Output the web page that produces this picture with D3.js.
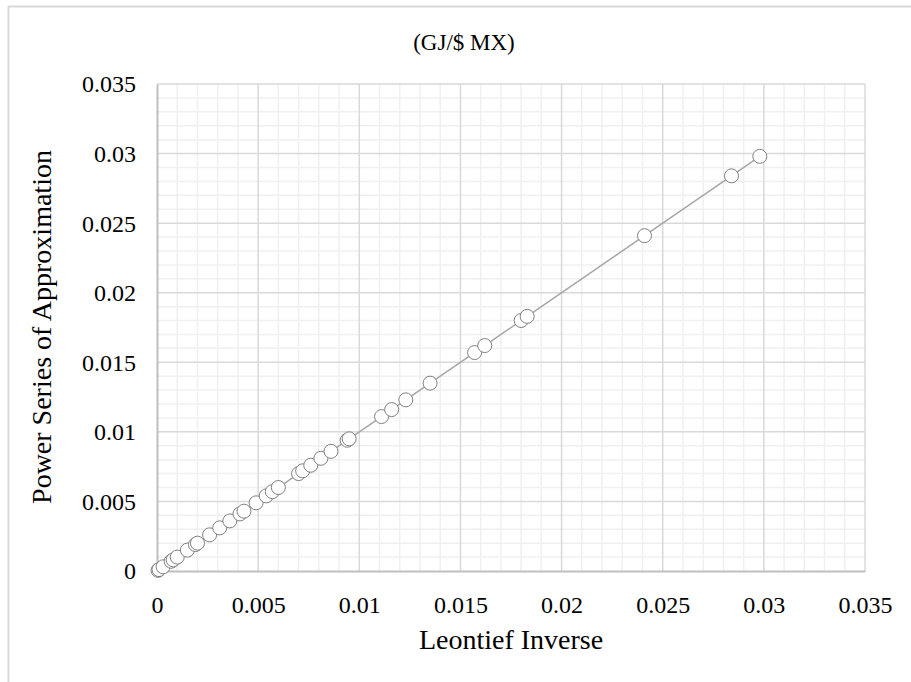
<!DOCTYPE html>
<html>
<head>
<meta charset="utf-8">
<script src="https://cdn.jsdelivr.net/npm/d3@7"></script>
<style>
  html, body { margin: 0; padding: 0; background: #fff; }
  svg { display: block; }
  text { font-family: "Liberation Serif", "Times New Roman", serif; fill: #000; }
</style>
</head>
<body>
<svg id="chart" width="911" height="682"></svg>
<script>
// Energy intensities per sector: Leontief inverse vs. power-series approximation
const leontief = [0.00005, 0.0001, 0.0003, 0.0007, 0.0008, 0.0010, 0.0015, 0.0019, 0.0020,
  0.0026, 0.0031, 0.0036, 0.0041, 0.0043, 0.0049, 0.0054, 0.0057, 0.0060, 0.0070, 0.0072,
  0.0076, 0.0081, 0.0086, 0.0094, 0.0095, 0.0111, 0.0116, 0.0123, 0.0135, 0.0157, 0.0162,
  0.0180, 0.0183, 0.0241, 0.0284, 0.0298];
const powerSeries = [0.00005, 0.0001, 0.0003, 0.0007, 0.0008, 0.0010, 0.0015, 0.0019, 0.0020,
  0.0026, 0.0031, 0.0036, 0.0041, 0.0043, 0.0049, 0.0054, 0.0057, 0.0060, 0.0070, 0.0072,
  0.0076, 0.0081, 0.0086, 0.0094, 0.0095, 0.0111, 0.0116, 0.0123, 0.0135, 0.0157, 0.0162,
  0.0180, 0.0183, 0.0241, 0.0284, 0.0298];
const majorTicks = [0, 0.005, 0.01, 0.015, 0.02, 0.025, 0.03, 0.035];
const tickLabels = ["0", "0.005", "0.01", "0.015", "0.02", "0.025", "0.03", "0.035"];
const minorStep = 0.001;
const chartTitle = "(GJ/$ MX)";
const xTitle = "Leontief Inverse";
const yTitle = "Power Series of Approximation";

const svg = d3.select("#chart");
const plot = { left: 157, right: 865, top: 84, bottom: 571 };

const x = d3.scaleLinear().domain([0, 0.035]).range([plot.left, plot.right]);
const y = d3.scaleLinear().domain([0, 0.035]).range([plot.bottom, plot.top]);

// outer chart frame
svg.append("rect")
  .attr("x", 8.5).attr("y", 6.5)
  .attr("width", 1000).attr("height", 1000)
  .attr("fill", "none").attr("stroke", "#d9d9d9").attr("stroke-width", 2);

const minorTicks = d3.range(0, 0.035 + 1e-9, minorStep)
  .map(v => +v.toFixed(4))
  .filter(v => !majorTicks.some(m => Math.abs(m - v) < 1e-9));

const grid = svg.append("g");
// minor grid
grid.selectAll(".mx").data(minorTicks).join("line")
  .attr("x1", d => x(d)).attr("x2", d => x(d))
  .attr("y1", plot.top).attr("y2", plot.bottom)
  .attr("stroke", "#f0f0f0").attr("stroke-width", 1.5);
grid.selectAll(".my").data(minorTicks).join("line")
  .attr("y1", d => y(d)).attr("y2", d => y(d))
  .attr("x1", plot.left).attr("x2", plot.right)
  .attr("stroke", "#f0f0f0").attr("stroke-width", 1.5);
// major grid
grid.selectAll(".Mx").data(majorTicks.slice(1)).join("line")
  .attr("x1", d => x(d)).attr("x2", d => x(d))
  .attr("y1", plot.top).attr("y2", plot.bottom)
  .attr("stroke", "#d9d9d9").attr("stroke-width", 1.5);
grid.selectAll(".My").data(majorTicks.slice(1)).join("line")
  .attr("y1", d => y(d)).attr("y2", d => y(d))
  .attr("x1", plot.left).attr("x2", plot.right)
  .attr("stroke", "#d9d9d9").attr("stroke-width", 1.5);

// axes
const xAxis = d3.axisBottom(x).tickValues(majorTicks)
  .tickFormat((d, i) => tickLabels[i]).tickSize(0).tickPadding(25);
const yAxis = d3.axisLeft(y).tickValues(majorTicks)
  .tickFormat((d, i) => tickLabels[i]).tickSize(0).tickPadding(21);

const gx = svg.append("g").attr("transform", `translate(0,${plot.bottom})`).call(xAxis);
const gy = svg.append("g").attr("transform", `translate(${plot.left},0)`).call(yAxis);
[gx, gy].forEach(g => {
  g.select(".domain").attr("stroke", "#bfbfbf").attr("stroke-width", 2);
  g.selectAll("text").style("font-family", '"Liberation Serif", serif')
    .style("font-size", "24px").attr("fill", "#000");
});
gx.selectAll("text").attr("dy", "0.71em");
gy.selectAll("text").attr("dy", "0.33em");

// connecting line and markers
const pts = leontief.map((v, i) => ({ x: v, y: powerSeries[i] })).sort((a, b) => a.x - b.x);
const line = d3.line().x(d => x(d.x)).y(d => y(d.y));
const origin = [{ x: 0, y: 0 }].concat(pts);
svg.append("path").datum(origin).attr("d", line)
  .attr("fill", "none").attr("stroke", "#a6a6a6").attr("stroke-width", 1.5);

svg.append("g").selectAll("circle").data(pts).join("circle")
  .attr("cx", d => x(d.x)).attr("cy", d => y(d.y)).attr("r", 7)
  .attr("fill", "#fff").attr("stroke", "#7f7f7f").attr("stroke-width", 1);

// titles
svg.append("text").attr("x", 464).attr("y", 50).attr("text-anchor", "middle")
  .style("font-size", "23px").text(chartTitle);
svg.append("text").attr("x", 511).attr("y", 649).attr("text-anchor", "middle")
  .style("font-size", "28px").text(xTitle);
svg.append("text").attr("transform", `translate(51,327) rotate(-90)`)
  .attr("text-anchor", "middle").style("font-size", "28px").text(yTitle);
</script>
</body>
</html>
